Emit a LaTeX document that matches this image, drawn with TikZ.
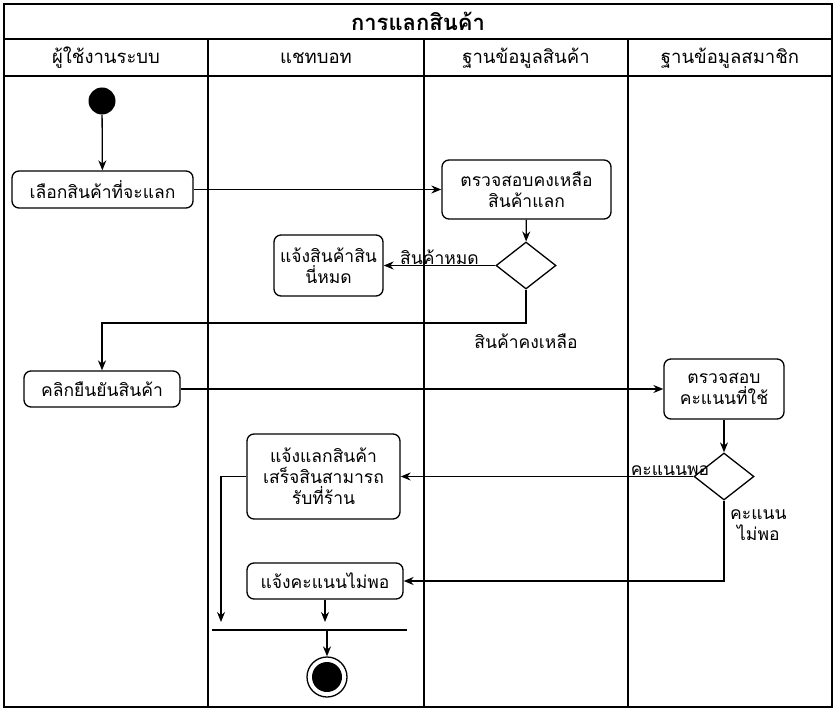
\documentclass[tikz,border=0pt]{standalone}
\usepackage{fontspec}
\newfontfamily\thaifont[Script=Thai]{Loma}
\usetikzlibrary{shapes.geometric,arrows.meta,positioning}

\tikzset{
  act/.style={draw,line width=1.3pt,rounded corners=7pt,align=center,inner sep=2pt},
  choice/.style={draw,line width=1.3pt,diamond,inner sep=0pt,minimum width=60pt,minimum height=47pt},
  flow/.style={line width=1.3pt,-{Stealth[length=10pt,width=8pt]}},
  lane/.style={line width=1.3pt}
}

\begin{document}
\begin{tikzpicture}[x=1pt,y=-1pt,font=\thaifont\fontsize{17.5}{21}\selectfont]
\useasboundingbox (0,0) rectangle (838,714);
% swimlanes
\draw[lane] (4,4) rectangle (832,707);
\draw[lane] (4,39) -- (832,39);
\draw[lane] (4,76) -- (832,76);
\draw[lane] (208,39) -- (208,707);
\draw[lane] (424,39) -- (424,707);
\draw[lane] (628,39) -- (628,707);
\node[font=\thaifont\fontsize{22}{24}\selectfont\bfseries] (title) at (418,21) {การแลกสินค้า};
\node[font=\thaifont\fontsize{18.5}{22}\selectfont] (hUser) at (106,58) {ผู้ใช้งานระบบ};
\node[font=\thaifont\fontsize{18.5}{22}\selectfont] (hBot)  at (316,58) {แชทบอท};
\node[font=\thaifont\fontsize{18.5}{22}\selectfont] (hStock) at (526,58) {ฐานข้อมูลสินค้า};
\node[font=\thaifont\fontsize{18.5}{22}\selectfont] (hMember) at (730,58) {ฐานข้อมูลสมาชิก};

% activities
\node[circle,fill,inner sep=0pt,minimum size=27pt] (start) at (102,101) {};
\node[act,minimum width=181pt,minimum height=37pt] (pick) at (102.5,189.5) {เลือกสินค้าที่จะแลก};
\node[act,minimum width=169pt,minimum height=59pt] (chkStock) at (526.5,189.5) {ตรวจสอบคงเหลือ\\สินค้าแลก};
\node[choice] (dStock) at (526,265.5) {};
\node[act,minimum width=109pt,minimum height=61pt] (outStock) at (328.5,265.5) {แจ้งสินค้าสิน\\นี่หมด};
\node[act,minimum width=156pt,minimum height=36pt] (confirm) at (102,389) {คลิกยืนยันสินค้า};
\node[act,minimum width=120pt,minimum height=60pt] (chkPts) at (724,389) {ตรวจสอบ\\คะแนนที่ใช้};
\node[choice] (dPts) at (724,476.5) {};
\node[act,minimum width=153pt,minimum height=85pt] (done) at (323.5,476.5) {แจ้งแลกสินค้า\\เสร็จสินสามารถ\\รับที่ร้าน};
\node[act,minimum width=156pt,minimum height=36pt] (lowPts) at (325,581) {แจ้งคะแนนไม่พอ};
\node[fill,inner sep=0pt,minimum width=195pt,minimum height=1.4pt] (bar) at (309.5,630) {};
\node[circle,draw,line width=1.3pt,inner sep=0pt,minimum size=40pt] (end) at (327,677) {};
\node[circle,fill,inner sep=0pt,minimum size=30pt] (endIn) at (end) {};

\coordinate (turnA) at (526,323);
\coordinate (turnB) at (724,581);
\coordinate (joinL) at (221,622);

% flows
\draw[flow] (start) -- (pick);
\draw[flow] (pick) -- (chkStock);
\draw[flow] (chkStock) -- (dStock);
\draw[flow] (dStock.west) -- (outStock.east) node[midway,above=-3pt] {สินค้าหมด};
\draw[flow] (dStock.south) -- (turnA) node[below=7pt] {สินค้าคงเหลือ} -| (confirm.north);
\draw[flow] (confirm) -- (chkPts);
\draw[flow] (chkPts) -- (dPts);
\draw[flow] (dPts.west) -- (done.east) node[pos=0.08,above=-3pt] {คะแนนพอ};
\draw[flow] (dPts.south) -- (turnB) -- (lowPts.east);
\node[anchor=north west,align=center,inner sep=0pt] (lblLow) at ([xshift=6pt,yshift=-9pt]dPts.south) {คะแนน\\ไม่พอ};
\draw[flow] (done.west) -| (joinL);
\draw[flow] (lowPts.south) -- (lowPts.south |- joinL);
\draw[flow] (bar.south -| end) -- (end.north);
\end{tikzpicture}
\end{document}
